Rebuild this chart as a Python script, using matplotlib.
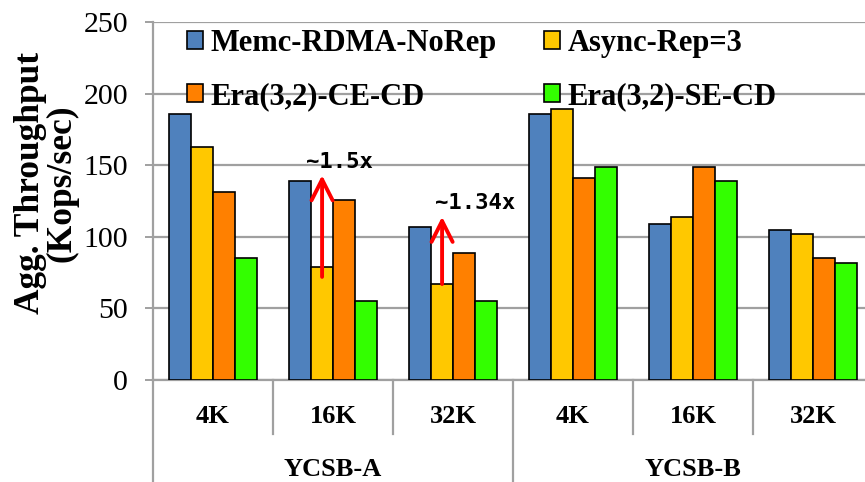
import matplotlib
matplotlib.use('Agg')
import matplotlib.pyplot as plt
import numpy as np
from matplotlib.patches import Patch
from matplotlib.font_manager import FontProperties

# ---- data ----
sizes = ['4K', '16K', '32K', '4K', '16K', '32K']
workloads = ['YCSB-A', 'YCSB-B']
series = ['Memc-RDMA-NoRep', 'Async-Rep=3', 'Era(3,2)-CE-CD', 'Era(3,2)-SE-CD']
memc = [186, 139, 107, 186, 109, 105]
async_rep = [163, 79, 67, 189, 114, 102]
era_ce = [131, 126, 89, 141, 149, 85]
era_se = [85, 55, 55, 149, 139, 82]
yticks = [0, 50, 100, 150, 200, 250]
arrow_groups = [1, 2]
arrow_from = [72, 67]
arrow_to = [143, 114]
arrow_labels = ['~1.5x', '~1.34x']

# ---- style ----
colors = ['#4F81BD', '#FFC800', '#FF8000', '#33FF00']
grid_c = '#A0A0A0'
serif = 'Liberation Serif'
label_dx = [-16, -7]
label_dy = [13, 14]

W, H = 865, 482
fig = plt.figure(figsize=(W / 100, H / 100), dpi=100)
ax = fig.add_axes([153 / W, 1 - 380 / H, 720 / W, 358 / H])

x = np.arange(len(sizes))
bw = 0.182
vals = [memc, async_rep, era_ce, era_se]
for k, (v, c) in enumerate(zip(vals, colors)):
    ax.bar(x + (k - 1.5) * bw, v, bw, color=c, edgecolor='black',
           linewidth=1.2, zorder=3)

ax.set_xlim(-0.5, len(sizes) - 0.5)
ax.set_ylim(0, 250)
ax.set_yticks(yticks)
ax.set_yticklabels([str(t) for t in yticks], fontfamily=serif, fontsize=21.5)
ax.yaxis.grid(True, color=grid_c, linewidth=1.6, zorder=0)
ax.set_axisbelow(True)
ax.set_xticks([])
ax.tick_params(axis='y', direction='out', length=6, width=1.4, color=grid_c, pad=12)
for s in ['top', 'right']:
    ax.spines[s].set_visible(False)
for s in ['left', 'bottom']:
    ax.spines[s].set_color(grid_c)
    ax.spines[s].set_linewidth(1.6)

xt = ax.get_xaxis_transform()
# left axis extension
ax.plot([-0.5, -0.5], [0, -0.29], transform=xt, clip_on=False, color=grid_c, lw=1.6)
# separators
n_per = len(sizes) // len(workloads)
for i in range(1, len(sizes)):
    if i % n_per == 0:
        ax.plot([i - 0.5, i - 0.5], [0, -0.29], transform=xt, clip_on=False,
                color=grid_c, lw=1.6)
    else:
        ax.plot([i - 0.5, i - 0.5], [0, -0.151], transform=xt, clip_on=False,
                color=grid_c, lw=1.6)
for i, s in enumerate(sizes):
    ax.text(i, -0.103, s, transform=xt, ha='center', va='center',
            fontfamily=serif, fontweight='bold', fontsize=19)
for j, w in enumerate(workloads):
    ax.text(j * n_per + (n_per - 1) / 2, -0.251, w, transform=xt, ha='center',
            va='center', fontfamily=serif, fontweight='bold', fontsize=19)

# y label
fig.text(46 / W, 1 - 183 / H, 'Agg. Throughput\n(Kops/sec)', rotation=90,
         ha='center', va='center', fontfamily=serif, fontweight='bold',
         fontsize=25.5, linespacing=0.95)

# legend (row-wise order)
handles = [Patch(facecolor=c, edgecolor='black', linewidth=1.2) for c in colors]
order = [0, 2, 1, 3]
ax.legend([handles[i] for i in order], [series[i] for i in order], ncol=2,
          loc='upper left', bbox_to_anchor=(187 / W, 1 - 29 / H),
          bbox_transform=fig.transFigure, frameon=False,
          prop=FontProperties(family=serif, weight='bold', size=22),
          handlelength=0.52, handleheight=0.52, handletextpad=0.25,
          columnspacing=1.55, labelspacing=0.78, borderpad=0, borderaxespad=0)

# speedup arrows
for g, a0, a1, lab, dx, dy in zip(arrow_groups, arrow_from, arrow_to,
                                   arrow_labels, label_dx, label_dy):
    xa = g + (1 - 1.5) * bw
    ax.annotate('', xy=(xa, a1), xytext=(xa, a0),
                arrowprops=dict(arrowstyle='->,head_length=0.75,head_width=0.38',
                                color='red', lw=2.8, mutation_scale=20,
                                shrinkA=0, shrinkB=0), zorder=6)
    ax.annotate(lab, xy=(xa, a1), xytext=(dx, dy), textcoords='offset pixels',
                ha='left', va='center', fontfamily='DejaVu Sans Mono',
                fontweight='bold', fontsize=16, zorder=6)

fig.savefig('out.png', dpi=100)
